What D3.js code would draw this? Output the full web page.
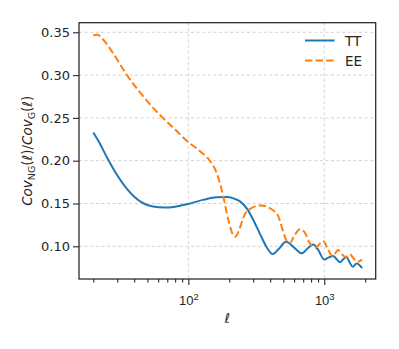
<!DOCTYPE html>
<html>
<head>
<meta charset="utf-8">
<script src="https://cdn.jsdelivr.net/npm/d3@7"></script>
<style>
  html, body { margin: 0; padding: 0; background: #fff; }
  svg { display: block; font-family: "DejaVu Sans", sans-serif; }
</style>
</head>
<body>
<svg id="chart" width="399" height="349"></svg>
<script>
// multipole values (ell) and ratios
const ttEll = [20, 22, 25, 30, 35, 40, 47, 55, 67, 80, 100, 130, 160, 190, 215, 240, 270, 300, 340, 380, 417, 460, 523, 600, 682, 760, 830, 900, 1000, 1080, 1164, 1240, 1303, 1380, 1462, 1540, 1618, 1731, 1900];
const ttRatio = [0.233, 0.222, 0.205, 0.183, 0.168, 0.158, 0.150, 0.1465, 0.1452, 0.1462, 0.1495, 0.1545, 0.1573, 0.1575, 0.1560, 0.1525, 0.1440, 0.1310, 0.1130, 0.0980, 0.0910, 0.0965, 0.1052, 0.0985, 0.0918, 0.0980, 0.1020, 0.0960, 0.0845, 0.0870, 0.0887, 0.0845, 0.0814, 0.0850, 0.0871, 0.0810, 0.0762, 0.0800, 0.0746];

const eeEll = [20, 21.5, 23, 28, 35, 49, 65, 80, 97, 122, 144, 162, 181, 197, 220, 268, 340, 446, 535, 560, 600, 663, 720, 780, 860, 984, 1060, 1153, 1268, 1360, 1440, 1545, 1640, 1750, 1900];
const eeRatio = [0.3465, 0.3470, 0.3435, 0.3255, 0.301, 0.271, 0.250, 0.2365, 0.2235, 0.2110, 0.200, 0.1853, 0.158, 0.1307, 0.1112, 0.1404, 0.1478, 0.1386, 0.1054, 0.1040, 0.1120, 0.1199, 0.1160, 0.1040, 0.0985, 0.1060, 0.0970, 0.0887, 0.0957, 0.0900, 0.0875, 0.0905, 0.0860, 0.0820, 0.0845];

const yTicks = [0.10, 0.15, 0.20, 0.25, 0.30, 0.35];
const xMajor = [100, 1000];
const xMinor = [20, 30, 40, 50, 60, 70, 80, 90, 200, 300, 400, 500, 600, 700, 800, 900, 2000];

const series = [
  { name: "TT", ell: ttEll, ratio: ttRatio, color: "#1f77b4", dash: null },
  { name: "EE", ell: eeEll, ratio: eeRatio, color: "#ff7f0e", dash: "7.4,3.2" }
];

const svg = d3.select("#chart");
const width = 399, height = 349;
const MARGIN = { top: 22.7, right: 23.3, bottom: 70, left: 79 };
const x0 = MARGIN.left, x1 = width - MARGIN.right;
const y0 = height - MARGIN.bottom, y1 = MARGIN.top;

const x = d3.scaleLog().domain([15.7, 2390]).range([x0, x1]);
const y = d3.scaleLinear().domain([0.0618, 0.3612]).range([y0, y1]);

const INK = "#262626";
const GRID = "#cccccc";

// grid
const grid = svg.append("g");
grid.selectAll("line.h")
  .data(yTicks)
  .join("line")
  .attr("x1", x0).attr("x2", x1)
  .attr("y1", d => y(d)).attr("y2", d => y(d))
  .attr("stroke", GRID).attr("stroke-width", 0.9)
  .attr("stroke-dasharray", "3,2.6");
grid.selectAll("line.v")
  .data(xMajor)
  .join("line")
  .attr("x1", d => x(d)).attr("x2", d => x(d))
  .attr("y1", y1).attr("y2", y0)
  .attr("stroke", GRID).attr("stroke-width", 0.9)
  .attr("stroke-dasharray", "3,2.6");

// curves
const line = d3.line()
  .x(d => x(d[0]))
  .y(d => y(d[1]))
  .curve(d3.curveMonotoneX);

svg.append("g")
  .selectAll("path")
  .data(series)
  .join("path")
  .attr("d", s => line(s.ell.map((e, i) => [e, s.ratio[i]])))
  .attr("fill", "none")
  .attr("stroke", s => s.color)
  .attr("stroke-width", 2)
  .attr("stroke-dasharray", s => s.dash);

// axes
const yAxis = svg.append("g")
  .attr("transform", `translate(${x0},0)`)
  .call(d3.axisLeft(y).tickValues(yTicks).tickFormat(d3.format(".2f")).tickSize(6).tickPadding(3));

const xAxis = svg.append("g")
  .attr("transform", `translate(0,${y0})`)
  .call(d3.axisBottom(x).tickValues(xMajor).tickFormat(() => "").tickSize(6));

const xMinorAxis = svg.append("g")
  .attr("transform", `translate(0,${y0})`)
  .call(d3.axisBottom(x).tickValues(xMinor).tickFormat(() => "").tickSize(3.5));

for (const g of [yAxis, xAxis, xMinorAxis]) {
  g.select(".domain").remove();
  g.selectAll(".tick line").attr("stroke", INK).attr("stroke-width", 1.1);
  g.selectAll(".tick text").attr("fill", INK).attr("font-size", 13)
    .attr("font-family", "DejaVu Sans, sans-serif");
}

// 10^n labels
xAxis.selectAll(".tick text").remove();
xAxis.selectAll(".tick")
  .append("text")
  .attr("y", 26)
  .attr("text-anchor", "middle")
  .attr("fill", INK)
  .attr("font-size", 13)
  .each(function(d) {
    const t = d3.select(this);
    t.append("tspan").text("10");
    t.append("tspan").attr("dy", -5.5).attr("font-size", 9.5).text(Math.round(Math.log10(d)));
  });

// frame
svg.append("rect")
  .attr("x", x0).attr("y", y1)
  .attr("width", x1 - x0).attr("height", y0 - y1)
  .attr("fill", "none")
  .attr("stroke", INK).attr("stroke-width", 1.25);

// axis labels
svg.append("text")
  .attr("x", (x0 + x1) / 2)
  .attr("y", 323)
  .attr("text-anchor", "middle")
  .attr("fill", INK)
  .attr("font-size", 13.5)
  .attr("font-style", "italic")
  .text("ℓ");

const yl = svg.append("text")
  .attr("transform", `translate(32,${(y0 + y1) / 2}) rotate(-90)`)
  .attr("text-anchor", "middle")
  .attr("fill", INK)
  .attr("font-size", 13.5);
yl.append("tspan").attr("font-style", "italic").text("Cov");
yl.append("tspan").attr("font-size", 9.5).attr("dy", 3).text("NG");
yl.append("tspan").attr("dy", -3).text("(");
yl.append("tspan").attr("font-style", "italic").text("ℓ");
yl.append("tspan").text(")/");
yl.append("tspan").attr("font-style", "italic").text("Cov");
yl.append("tspan").attr("font-size", 9.5).attr("dy", 3).text("G");
yl.append("tspan").attr("dy", -3).text("(");
yl.append("tspan").attr("font-style", "italic").text("ℓ");
yl.append("tspan").text(")");

// legend
const legend = svg.append("g");
const items = legend.selectAll("g")
  .data(series)
  .join("g")
  .attr("transform", (d, i) => `translate(305,${40.5 + i * 20})`);
items.append("line")
  .attr("x1", 0).attr("x2", 29.5)
  .attr("stroke", d => d.color)
  .attr("stroke-width", 2)
  .attr("stroke-dasharray", d => d.dash);
items.append("text")
  .attr("x", 40)
  .attr("y", 5)
  .attr("fill", INK)
  .attr("font-size", 13.5)
  .text(d => d.name);
</script>
</body>
</html>
